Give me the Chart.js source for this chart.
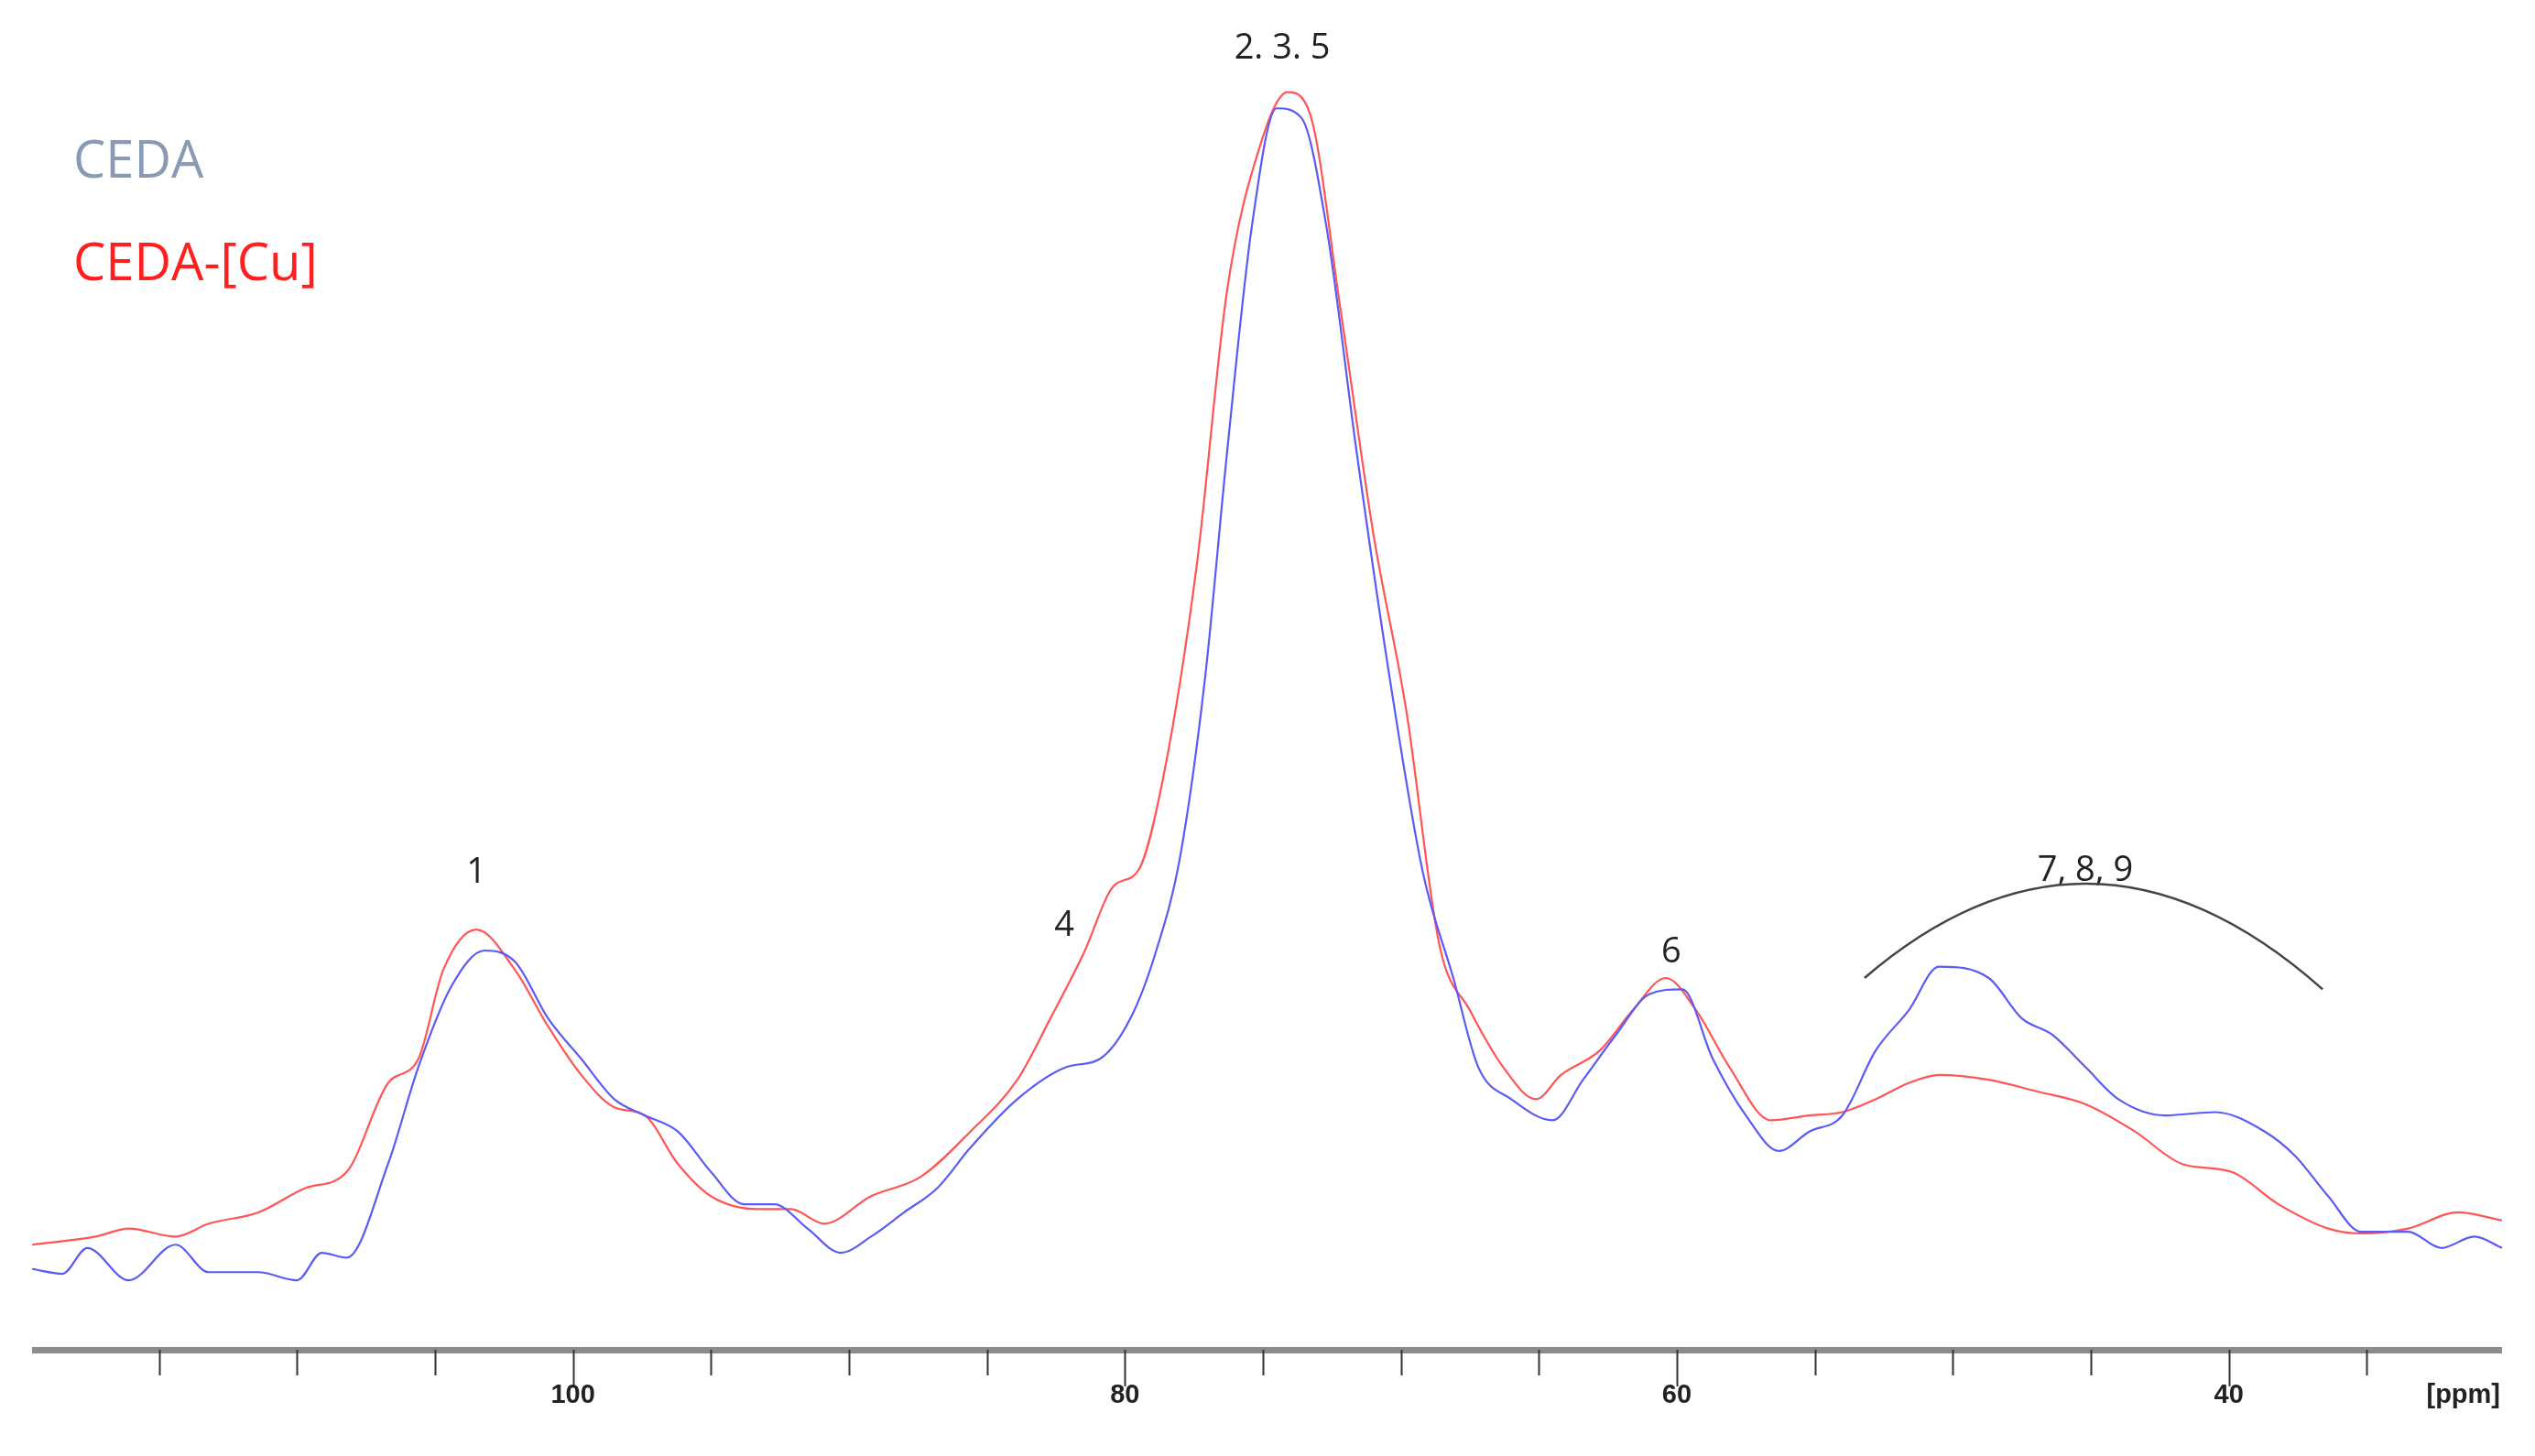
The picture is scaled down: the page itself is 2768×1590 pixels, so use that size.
<!DOCTYPE html>
<html>
<head>
<meta charset="utf-8">
<script src="https://cdn.jsdelivr.net/npm/chart.js@4/dist/chart.umd.min.js"></script>
<style>
  html, body { margin: 0; padding: 0; background: #fff; }
  #wrap { width: 2768px; height: 1590px; }
</style>
</head>
<body>
<div id="wrap"><canvas id="nmr"></canvas></div>
<script>
// chemical shift (ppm) and intensity
const cuPpm = [119.6,117.3,116.1,114.4,113.2,111.4,109.7,108.2,106.7,105.6,104.7,103.5,102.1,100.9,99.7,98.5,97.4,96.2,95.0,93.3,92.1,90.9,89.2,87.4,85.6,83.9,82.7,81.5,80.4,79.5,78.6,77.4,76.3,75.1,74.1,73.3,72.2,71.0,69.8,68.6,67.5,66.3,65.1,64.2,62.8,61.6,60.4,59.3,58.1,56.6,55.2,54.0,52.8,51.6,50.5,48.7,47.0,45.2,43.4,41.7,39.9,38.2,36.4,35.2,33.5,31.7,30.1];
const cuInt = [65,70,75,70,78,85,100,110,165,180,235,260,235,200,170,150,145,115,95,87,87,78,95,107,135,167,205,245,287,297,355,485,655,745,778,765,645,505,395,250,210,175,155,170,185,210,230,210,175,142,145,147,155,165,170,167,160,152,135,115,110,90,75,72,75,85,80];

const cedaPpm = [119.6,118.5,117.6,116.1,114.4,113.2,111.4,110.0,109.1,108.2,106.7,105.6,104.4,103.2,102.1,100.9,99.7,98.5,97.4,96.2,95.0,93.8,92.7,91.5,90.3,89.2,88.0,86.8,85.6,83.9,82.1,80.9,79.8,78.9,78.0,77.1,76.3,75.4,74.5,73.6,72.7,71.6,70.4,69.2,68.1,67.2,66.0,64.5,63.4,62.2,61.0,59.8,58.7,57.5,56.3,55.2,54.0,52.8,51.6,50.5,48.7,47.5,46.4,45.2,44.0,42.3,40.5,38.7,37.6,36.4,35.2,33.5,32.3,31.1,30.1];
const cedaInt = [50,47,63,43,65,48,48,43,60,57,115,175,225,247,240,205,180,155,145,135,110,90,90,75,60,70,85,100,125,155,175,180,205,245,305,415,555,695,768,762,695,555,415,295,230,175,155,142,167,195,220,223,180,145,123,135,145,185,210,237,230,205,195,175,155,145,147,135,120,95,73,73,63,70,63];

const tickValues = [35,40,45,50,55,60,65,70,75,80,85,90,95,100,105,110,115];
const labelledTicks = [40,60,80,100];

const peakLabels = [
  { text: '2. 3. 5', ppm: 74.3, y: 805 },
  { text: '1', ppm: 103.5, y: 295 },
  { text: '4', ppm: 82.2, y: 262 },
  { text: '6', ppm: 60.2, y: 246 },
  { text: '7, 8, 9', ppm: 45.2, y: 296 }
];

function pts(xs, ys) { return xs.map((x, i) => ({ x: x, y: ys[i] })); }

const overlay = {
  id: 'overlay',
  afterDraw(chart) {
    const ctx = chart.ctx;
    const xs = chart.scales.x, ys = chart.scales.y;
    const base = ys.getPixelForValue(0);
    ctx.save();
    // axis line
    ctx.fillStyle = '#8c8c8c';
    ctx.fillRect(xs.left, base - 3, xs.right - xs.left, 7);
    // ticks
    ctx.strokeStyle = '#333';
    ctx.lineWidth = 2;
    tickValues.forEach(v => {
      const px = Math.round(xs.getPixelForValue(v)) + 0.5;
      const len = labelledTicks.includes(v) ? 40 : 28;
      ctx.beginPath();
      ctx.moveTo(px, base);
      ctx.lineTo(px, base + len);
      ctx.stroke();
    });
    ctx.fillStyle = '#222';
    ctx.font = 'bold 29px "Liberation Sans", Arial';
    ctx.textAlign = 'center';
    ctx.textBaseline = 'middle';
    labelledTicks.forEach(v => ctx.fillText(String(v), xs.getPixelForValue(v), base + 50));
    ctx.textAlign = 'right';
    ctx.fillText('[ppm]', xs.right - 2, base + 50);

    // peak labels
    ctx.textAlign = 'center';
    ctx.font = '38px "Open Sans", sans-serif';
    ctx.fillStyle = '#222';
    peakLabels.forEach(p => ctx.fillText(p.text, xs.getPixelForValue(p.ppm), ys.getPixelForValue(p.y)));

    // arc over 7, 8, 9
    ctx.strokeStyle = '#444';
    ctx.lineWidth = 2.5;
    ctx.beginPath();
    ctx.moveTo(xs.getPixelForValue(53.2), ys.getPixelForValue(230));
    ctx.quadraticCurveTo(xs.getPixelForValue(45.0), ys.getPixelForValue(350),
                         xs.getPixelForValue(36.6), ys.getPixelForValue(223));
    ctx.stroke();

    // legend
    ctx.textAlign = 'left';
    ctx.font = '56px "Open Sans", sans-serif';
    ctx.fillStyle = '#8a9ab5';
    ctx.fillText('CEDA', 80, 178);
    ctx.fillStyle = '#ff1f1f';
    ctx.fillText('CEDA-[Cu]', 80, 290);
    ctx.restore();
  }
};

new Chart(document.getElementById('nmr'), {
  type: 'line',
  data: {
    datasets: [
      { label: 'CEDA', data: pts(cedaPpm, cedaInt), borderColor: '#5a5af5', borderWidth: 2.2, pointRadius: 0, cubicInterpolationMode: 'monotone' },
      { label: 'CEDA-[Cu]', data: pts(cuPpm, cuInt), borderColor: '#ff5555', borderWidth: 2.2, pointRadius: 0, cubicInterpolationMode: 'monotone' }
    ]
  },
  options: {
    responsive: true,
    maintainAspectRatio: false,
    animation: false,
    layout: { padding: { left: 35, right: 36, top: 0, bottom: 116 } },
    plugins: { legend: { display: false }, tooltip: { enabled: false } },
    scales: {
      x: { type: 'linear', reverse: true, min: 30.1, max: 119.6, display: false },
      y: { min: 0, max: 835, display: false }
    }
  },
  plugins: [overlay]
});
</script>
</body>
</html>
